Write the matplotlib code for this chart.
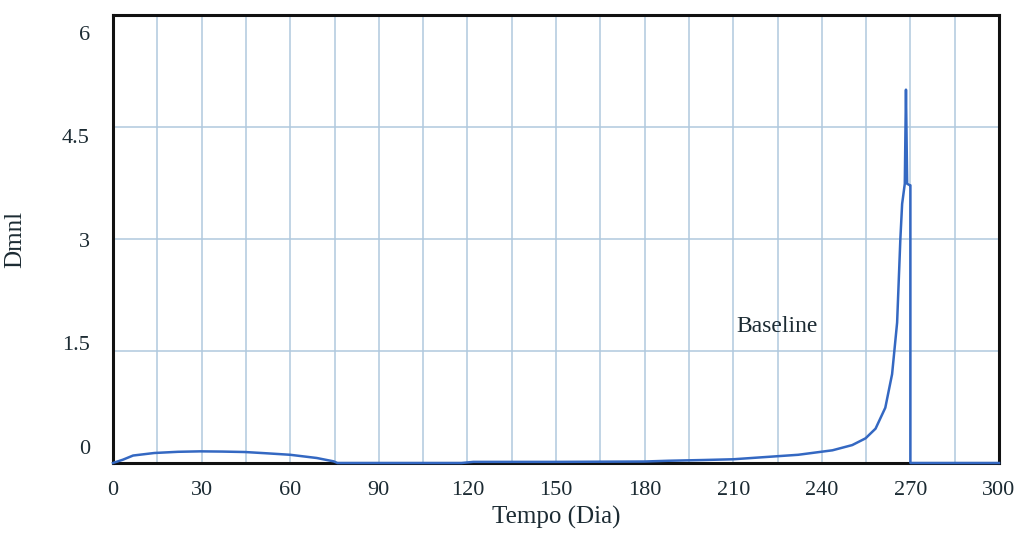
import matplotlib
matplotlib.use("Agg")
import matplotlib.pyplot as plt
import numpy as np

# valores (Tempo em dias, Dmnl)
dias = [0, 3.4, 6.8, 14, 22, 29.5, 37, 44.7, 52, 60, 69, 74.7, 76, 90, 105, 118,
        122, 150, 180, 188, 200, 210, 221, 232, 243.6, 250.3, 254.8, 258.2, 261.5,
        263.8, 265.5, 266.6, 267.2, 268.1, 268.5, 268.9, 269.8, 270, 270, 300]
baseline = [0, 0.045, 0.1, 0.134, 0.15, 0.156, 0.153, 0.147, 0.13, 0.11, 0.067,
            0.022, 0, 0, 0, 0, 0.015, 0.015, 0.02, 0.03, 0.04, 0.05, 0.08, 0.11,
            0.17, 0.24, 0.33, 0.46, 0.74, 1.19, 1.88, 3.0, 3.47, 3.74, 5.0, 3.74,
            3.72, 3.72, 0, 0]

xticks = [0, 30, 60, 90, 120, 150, 180, 210, 240, 270, 300]
yticks = [0, 1.5, 3, 4.5, 6]
ylabels = ['0', '1.5', '3', '4.5', '6']

cor_texto = '#1c2b33'
fonte = 'Liberation Serif'

fig = plt.figure(figsize=(10.25, 5.34), dpi=100)
ax = fig.add_axes([113/1025, 71/534, 886/1025, 448/534])

ax.plot(dias, baseline, color='#3468c2', lw=1.8, zorder=5, clip_on=False)

ax.set_xlim(0, 300)
ax.set_ylim(0, 6)
ax.set_xticks(xticks)
ax.set_xticks(np.arange(15, 300, 30), minor=True)
ax.set_yticks(yticks)
ax.grid(True, which='both', axis='x', color='#b0c9de', lw=1.1)
ax.grid(True, which='major', axis='y', color='#b0c9de', lw=1.1)
ax.tick_params(which='both', length=0)
ax.tick_params(axis='x', pad=13, labelsize=16, labelcolor=cor_texto)
ax.tick_params(axis='y', labelleft=False)
for lab in ax.get_xticklabels():
    lab.set_fontfamily(fonte)

# rotulos do eixo y, levemente recolhidos para dentro como no Vensim
for v, s in zip(yticks, ylabels):
    ax.text(-0.026, 0.03 + 0.925 * v / 6, s, transform=ax.transAxes,
            ha='right', va='center', fontsize=16, family=fonte, color=cor_texto)

for sp in ax.spines.values():
    sp.set_linewidth(2.2)
    sp.set_color('#111111')
    sp.set_zorder(4)

ax.set_xlabel('Tempo (Dia)', fontsize=18, family=fonte, color=cor_texto, labelpad=4)
ax.set_ylabel('Dmnl', fontsize=18, family=fonte, color=cor_texto)
ax.yaxis.set_label_coords(-0.098, 0.5)

ax.text(225, 1.83, 'Baseline', ha='center', va='center', fontsize=17,
        family=fonte, color=cor_texto, zorder=6)

fig.savefig('out.png', dpi=100, facecolor='white')
